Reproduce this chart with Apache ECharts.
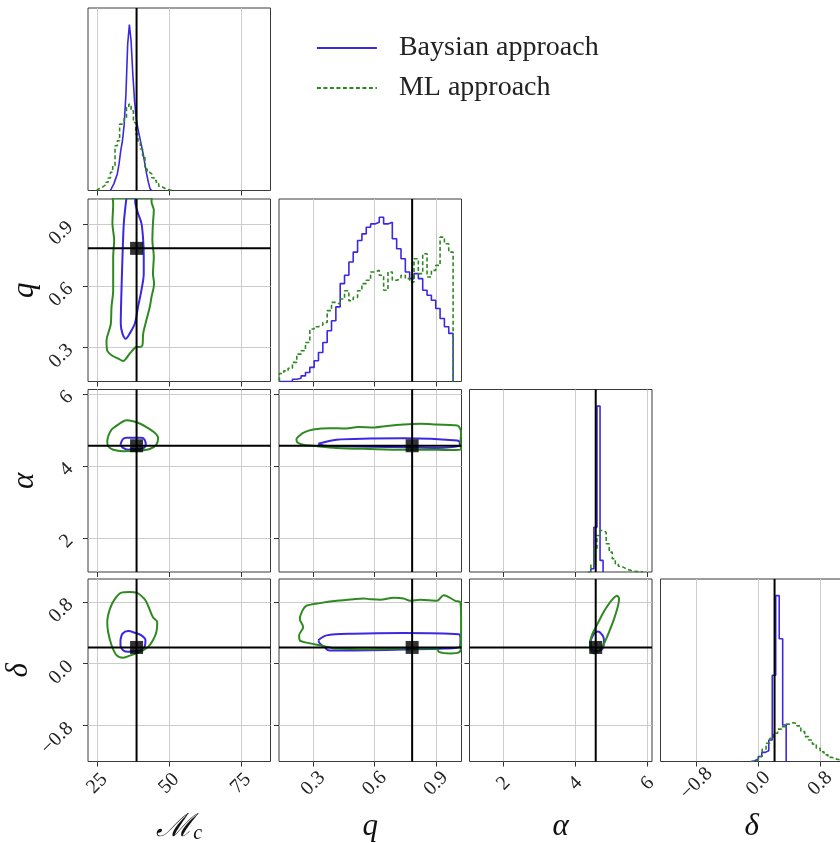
<!DOCTYPE html>
<html><head><meta charset="utf-8">
<script src="https://cdn.jsdelivr.net/npm/echarts@6/dist/echarts.min.js"></script>
<style>html,body{margin:0;padding:0;background:#fff}#c{width:840px;height:843px}</style>
</head><body><div id="c"></div><script>
// ---------- axis data ----------
const McRange = [21.8, 85.3];
const qRange = [0.133, 1.024];
const alphaRange = [1.05, 6.125];
const deltaRange = [-1.265, 1.095];
const histRange = [0, 1.1];

const McTicks = [25, 50, 75];
const McTickLabels = ['25', '50', '75'];
const qTicks = [0.3, 0.6, 0.9];
const qTickLabels = ['0.3', '0.6', '0.9'];
const alphaTicks = [2, 4, 6];
const alphaTickLabels = ['2', '4', '6'];
const deltaTicks = [-0.8, 0.0, 0.8];
const deltaTickLabels = ['\u22120.8', '0.0', '0.8'];

const truthMc = 38.7, truthQ = 0.783, truthAlpha = 4.56, truthDelta = 0.21;

// ---------- 1D histograms (bin start, bin width, heights) ----------
const McBlueStart = 29.6, McBlueWidth = 0.6;
const McBlueHeights = [0.01,0.02,0.04,0.07,0.10,0.16,0.24,0.30,0.40,0.58,0.88,1.00,0.90,0.70,0.54,0.43,0.37,0.32,0.27,0.22,0.16,0.10,0.05,0.01];
const McGreenStart = 24.8, McGreenWidth = 0.8;
const McGreenHeights = [0.01,0.016,0.025,0.035,0.05,0.075,0.11,0.15,0.27,0.30,0.40,0.41,0.44,0.50,0.52,0.48,0.41,0.34,0.29,0.25,0.21,0.13,0.11,0.10,0.077,0.06,0.04,0.026,0.018,0.01,0.006,0.003,0.001];

const qBlueStart = 0.135, qBlueWidth = 0.0212;
const qBlueHeights = [0,0,0,0.014,0.02,0.034,0.054,0.085,0.125,0.175,0.235,0.306,0.366,0.45,0.59,0.64,0.72,0.78,0.85,0.89,0.93,0.95,0.96,0.99,0.95,0.96,0.86,0.80,0.74,0.66,0.62,0.65,0.62,0.55,0.52,0.49,0.44,0.38,0.33,0.29];
const qGreenStart = 0.135, qGreenWidth = 0.0212;
const qGreenHeights = [0.048,0.064,0.08,0.115,0.165,0.185,0.235,0.316,0.33,0.34,0.356,0.427,0.477,0.467,0.497,0.547,0.487,0.507,0.547,0.59,0.61,0.66,0.67,0.64,0.55,0.66,0.61,0.62,0.64,0.62,0.60,0.74,0.65,0.77,0.63,0.67,0.70,0.87,0.83,0.78];

const alphaBlueStart = 4.425, alphaBlueWidth = 0.085;
const alphaBlueHeights = [0.02, 0.27, 1.0, 0.07];
const alphaGreenStart = 4.34, alphaGreenWidth = 0.085;
const alphaGreenHeights = [0.0,0.045,0.14,0.22,0.25,0.24,0.17,0.12,0.08,0.05,0.035,0.025,0.015,0.01,0.005,0.003,0.002,0.001];

const deltaBlueStart = -0.09, deltaBlueWidth = 0.045;
const deltaBlueHeights = [0.005,0.015,0.03,0.055,0.065,0.13,0.52,1.0,0.74,0.22];
const deltaGreenStart = -0.1, deltaGreenWidth = 0.05;
const deltaGreenHeights = [0,0.008,0.03,0.074,0.11,0.14,0.17,0.195,0.21,0.225,0.234,0.23,0.215,0.18,0.15,0.13,0.105,0.08,0.058,0.04,0.025,0.016,0.01,0.005];

// ---------- 2D contours ----------
const McQBlue = [[35.2,1.03],[38.1,1.03],[38.3,1.0],[39.2,0.954],[40.4,0.905],[41.0,0.823],[41.2,0.74],[41.2,0.66],[40.4,0.579],[39.2,0.497],[38.1,0.416],[36.3,0.367],[34.95,0.342],[33.8,0.367],[33.2,0.416],[33.3,0.5],[33.45,0.579],[33.8,0.742],[34.26,0.905],[34.95,1.003],[35.2,1.03]];
const McQGreen = [[30.4,1.03],[44.0,1.03],[43.9,1.011],[44.7,0.97],[44.4,0.905],[44.2,0.823],[44.7,0.742],[44.4,0.66],[44.8,0.611],[43.9,0.546],[43.3,0.497],[42.1,0.432],[41.0,0.367],[40.74,0.31],[39.8,0.302],[38.66,0.302],[38.1,0.298],[36.3,0.269],[34.0,0.233],[32.3,0.245],[30.0,0.261],[28.47,0.285],[28.24,0.334],[29.17,0.383],[29.75,0.416],[29.98,0.497],[30.56,0.579],[30.56,0.742],[30.9,0.823],[30.3,0.905],[30.56,1.0],[30.4,1.03]];
const McAlphaBlue = [[33.1,4.59],[33.8,4.73],[35.2,4.78],[40.4,4.78],[41.5,4.73],[41.9,4.59],[41.2,4.5],[39.8,4.47],[36.9,4.47],[35.8,4.45],[34.0,4.5],[33.1,4.59]];
const McAlphaGreen = [[28.8,4.82],[28.5,4.69],[28.8,4.55],[30.6,4.45],[34.0,4.41],[39.8,4.43],[43.3,4.47],[45.6,4.59],[46.2,4.78],[45.0,4.92],[42.1,5.08],[39.8,5.18],[37.5,5.24],[35.2,5.27],[32.3,5.15],[30.0,5.01],[28.8,4.82]];
const McDeltaBlue = [[33.1,0.302],[33.8,0.387],[35.8,0.421],[38.1,0.40],[40.4,0.366],[41.8,0.302],[41.5,0.217],[40.4,0.174],[38.1,0.162],[35.8,0.153],[34.0,0.174],[33.1,0.238],[33.1,0.302]];
const McDeltaGreen = [[36.3,0.928],[38.7,0.919],[41.5,0.834],[42.7,0.749],[44.4,0.6],[45.9,0.536],[45.6,0.409],[44.4,0.302],[42.7,0.217],[39.8,0.153],[36.9,0.111],[34.0,0.077],[31.7,0.111],[30.0,0.238],[28.8,0.409],[28.5,0.536],[29.4,0.706],[31.1,0.834],[33.4,0.919],[36.3,0.928]];
const QAlphaBlue = [[0.3245,4.62],[0.414,4.73],[0.578,4.76],[0.741,4.77],[1.003,4.71],[1.016,4.64],[1.011,4.55],[0.905,4.5],[0.741,4.52],[0.578,4.53],[0.414,4.55],[0.349,4.57],[0.3245,4.62]];
const QAlphaGreen = [[0.218,4.76],[0.251,4.92],[0.3,5.01],[0.38,5.05],[0.46,5.04],[0.52,5.08],[0.6,5.07],[0.66,5.11],[0.741,5.15],[0.823,5.17],[0.905,5.15],[0.994,5.13],[1.011,5.10],[1.022,4.92],[1.019,4.64],[1.022,4.45],[0.97,4.44],[0.905,4.45],[0.741,4.45],[0.578,4.47],[0.414,4.5],[0.3,4.56],[0.251,4.59],[0.2215,4.66],[0.218,4.76]];
const QDeltaBlue = [[0.3245,0.302],[0.365,0.366],[0.496,0.387],[0.741,0.396],[1.011,0.379],[1.019,0.323],[1.016,0.217],[0.937,0.196],[0.741,0.183],[0.578,0.174],[0.414,0.17],[0.374,0.174],[0.357,0.209],[0.333,0.26],[0.3245,0.302]];
const QDeltaGreen = [[0.251,0.706],[0.2346,0.579],[0.251,0.472],[0.231,0.366],[0.2346,0.302],[0.267,0.272],[0.333,0.238],[0.414,0.196],[0.578,0.187],[0.741,0.196],[0.905,0.196],[0.913,0.153],[0.97,0.132],[1.011,0.145],[1.022,0.217],[1.022,0.579],[1.019,0.791],[0.994,0.813],[0.937,0.885],[0.905,0.813],[0.823,0.826],[0.774,0.813],[0.741,0.843],[0.692,0.851],[0.627,0.826],[0.578,0.834],[0.545,0.843],[0.496,0.834],[0.414,0.813],[0.333,0.783],[0.267,0.749],[0.251,0.706]];
const AlphaDeltaBlue = [[4.42,0.302],[4.51,0.387],[4.62,0.417],[4.75,0.366],[4.79,0.302],[4.75,0.196],[4.56,0.162],[4.44,0.196],[4.42,0.302]];
const AlphaDeltaGreen = [[4.40,0.281],[4.47,0.387],[4.61,0.515],[4.75,0.643],[4.89,0.749],[5.03,0.834],[5.15,0.877],[5.21,0.843],[5.18,0.749],[5.07,0.579],[4.93,0.409],[4.79,0.26],[4.65,0.162],[4.51,0.132],[4.42,0.174],[4.40,0.281]];

const seriesNames = ['Baysian approach', 'ML approach'];

// ---------- build ----------
const FONT = "'Liberation Serif','DejaVu Serif',serif";
const BLUE = '#3b28e2', GREEN = '#2e8a20';
const GRIDC = '#cccccc';

const params = [
  {range: McRange, ticks: McTicks, labels: McTickLabels, truth: truthMc, name: '{m|\u2133}{s|c}'},
  {range: qRange, ticks: qTicks, labels: qTickLabels, truth: truthQ, name: '{i|q}'},
  {range: alphaRange, ticks: alphaTicks, labels: alphaTickLabels, truth: truthAlpha, name: '{i|\u03b1}'},
  {range: deltaRange, ticks: deltaTicks, labels: deltaTickLabels, truth: truthDelta, name: '{i|\u03b4}'}
];
const hists = [
  [[McBlueStart, McBlueWidth, McBlueHeights], [McGreenStart, McGreenWidth, McGreenHeights]],
  [[qBlueStart, qBlueWidth, qBlueHeights], [qGreenStart, qGreenWidth, qGreenHeights]],
  [[alphaBlueStart, alphaBlueWidth, alphaBlueHeights], [alphaGreenStart, alphaGreenWidth, alphaGreenHeights]],
  [[deltaBlueStart, deltaBlueWidth, deltaBlueHeights], [deltaGreenStart, deltaGreenWidth, deltaGreenHeights]]
];
const contours = {
  '1,0': [McQBlue, McQGreen], '2,0': [McAlphaBlue, McAlphaGreen], '3,0': [McDeltaBlue, McDeltaGreen],
  '2,1': [QAlphaBlue, QAlphaGreen], '3,1': [QDeltaBlue, QDeltaGreen], '3,2': [AlphaDeltaBlue, AlphaDeltaGreen]
};

const colLeft = [88, 279, 469.5, 660.5];
const rowTop = [8, 199, 389.5, 579];
const S = 182.5;

function stepPts(start, width, h) {
  const pts = [[start, 0]];
  h.forEach((v, i) => { pts.push([start + i * width, v]); pts.push([start + (i + 1) * width, v]); });
  pts.push([start + h.length * width, 0]);
  return pts;
}
function fmt(p) {
  return v => { const k = p.ticks.findIndex(t => Math.abs(t - v) < 1e-9); return k >= 0 ? p.labels[k] : ''; };
}
const nameRich = {
  m: {fontFamily: FONT, fontSize: 32, fontStyle: 'italic', color: '#111'},
  s: {fontFamily: FONT, fontSize: 20, fontStyle: 'italic', color: '#111', verticalAlign: 'bottom', lineHeight: 12},
  i: {fontFamily: FONT, fontSize: 31, fontStyle: 'italic', color: '#111'}
};

const grids = [], xAxes = [], yAxes = [], series = [];
let idx = 0;
for (let r = 0; r < 4; r++) {
  for (let c = 0; c <= r; c++) {
    const diag = r === c;
    grids.push({left: colLeft[c], top: rowTop[r], width: S, height: S, show: true,
      borderColor: '#3a3a3a', borderWidth: 1, backgroundColor: 'transparent',
      containLabel: false, outerBoundsMode: 'none'});
    const px = params[c];
    xAxes.push({
      type: 'value', gridIndex: idx, min: px.range[0], max: px.range[1],
      axisLine: {show: false, onZero: false},
      axisTick: {show: true, inside: false, length: 5, customValues: px.ticks, lineStyle: {color: '#333'}},
      axisLabel: {show: r === 3, customValues: px.ticks, formatter: fmt(px), rotate: 45, align: 'center', verticalAlign: 'middle',
        margin: 22, fontFamily: FONT, fontSize: 20, color: '#222'},
      splitLine: {show: true, lineStyle: {color: GRIDC, width: 1}},
      name: r === 3 ? px.name : '', nameLocation: 'middle', nameGap: 50,
      nameTextStyle: {rich: nameRich}
    });
    if (diag) {
      yAxes.push({type: 'value', gridIndex: idx, min: histRange[0], max: histRange[1],
        axisLine: {show: false, onZero: false}, axisTick: {show: false}, axisLabel: {show: false}, splitLine: {show: false}});
    } else {
      const py = params[r];
      yAxes.push({
        type: 'value', gridIndex: idx, min: py.range[0], max: py.range[1],
        axisLine: {show: false, onZero: false},
        axisTick: {show: true, inside: false, length: 5, customValues: py.ticks, lineStyle: {color: '#333'}},
        axisLabel: {show: c === 0, customValues: py.ticks, formatter: fmt(py), rotate: 45,
          margin: 18, fontFamily: FONT, fontSize: 20, color: '#222'},
        splitLine: {show: true, lineStyle: {color: GRIDC, width: 1}},
        name: c === 0 ? py.name : '', nameLocation: 'middle', nameGap: 48,
        nameTextStyle: {rich: nameRich}
      });
    }
    const base = {xAxisIndex: idx, yAxisIndex: idx, symbol: 'none', silent: true, animation: false};
    if (diag) {
      const [b, g] = hists[c];
      series.push(Object.assign({}, base, {type: 'line', name: seriesNames[0], data: stepPts(b[0], b[1], b[2]),
        lineStyle: {color: BLUE, width: 1.6, type: 'solid'}, itemStyle: {color: BLUE}, z: 3}));
      series.push(Object.assign({}, base, {type: 'line', name: seriesNames[1], data: stepPts(g[0], g[1], g[2]),
        lineStyle: {color: GREEN, width: 1.6, type: [4, 2.5]}, itemStyle: {color: GREEN}, z: 3}));
      series.push(Object.assign({}, base, {type: 'line', name: 'truth', data: [[px.truth, histRange[0]], [px.truth, histRange[1]]],
        lineStyle: {color: '#000', width: 2}, z: 5}));
    } else {
      const py = params[r];
      const [b, g] = contours[r + ',' + c];
      series.push(Object.assign({}, base, {type: 'line', name: seriesNames[0], data: b, smooth: 0.3,
        lineStyle: {color: BLUE, width: 2}, itemStyle: {color: BLUE}, z: 3}));
      series.push(Object.assign({}, base, {type: 'line', name: seriesNames[1], data: g, smooth: 0.3,
        lineStyle: {color: GREEN, width: 2}, itemStyle: {color: GREEN}, z: 3}));
      series.push(Object.assign({}, base, {type: 'line', name: 'truth', data: [[px.truth, py.range[0]], [px.truth, py.range[1]]],
        lineStyle: {color: '#000', width: 2}, z: 5}));
      series.push(Object.assign({}, base, {type: 'line', name: 'truth', data: [[px.range[0], py.truth], [px.range[1], py.truth]],
        lineStyle: {color: '#000', width: 2}, z: 5}));
      series.push(Object.assign({}, base, {type: 'scatter', name: 'truth', data: [[px.truth, py.truth]],
        symbol: 'rect', symbolSize: 13, itemStyle: {color: '#000'}, z: 6}));
    }
    idx++;
  }
}

const chart = echarts.init(document.getElementById('c'), null, {renderer: 'canvas'});
chart.setOption({
  animation: false,
  backgroundColor: '#fff',
  legend: {
    data: seriesNames, orient: 'vertical', left: 311, top: 29, itemWidth: 60, itemHeight: 14, itemGap: 12,
    selectedMode: false,
    itemStyle: {color: 'rgba(0,0,0,0)', borderWidth: 0, opacity: 0},
    lineStyle: {width: 1.8},
    textStyle: {fontFamily: FONT, fontSize: 28, color: '#222', padding: [0, 0, 0, 17]}
  },
  grid: grids, xAxis: xAxes, yAxis: yAxes, series: series
});
</script></body></html>
